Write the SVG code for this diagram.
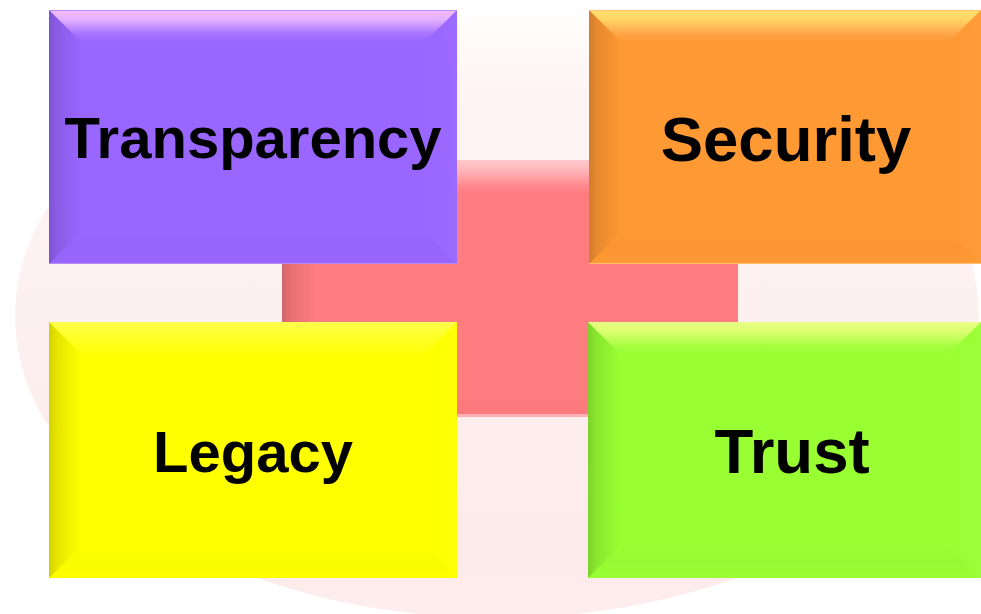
<svg xmlns="http://www.w3.org/2000/svg" width="981" height="614" viewBox="0 0 981 614">
<style>
.lbl{font-family:"Liberation Sans",Arial,sans-serif;font-weight:700;font-size:58px;fill:#000;text-anchor:middle}
.big{font-size:63.5px}
.l{fill:url(#gl)}
.r{fill:url(#gr)}
.b{fill:url(#gb)}
.edge{fill:none;stroke-width:1}
</style>
<defs>
<linearGradient id="ge" x1="0" y1="0" x2="0" y2="1">
<stop offset="0" stop-color="#fffdfd"/><stop offset=".13" stop-color="#fef4f4"/><stop offset=".5" stop-color="#fdf0f0"/><stop offset=".9" stop-color="#fdeaea"/><stop offset="1" stop-color="#fdeeee"/>
</linearGradient>
<linearGradient id="gl" x1="0" y1="0" x2="1" y2="0">
<stop offset="0" stop-color="#000" stop-opacity=".18"/><stop offset=".25" stop-color="#000" stop-opacity=".1"/><stop offset=".8" stop-color="#000" stop-opacity=".03"/><stop offset="1" stop-color="#000" stop-opacity="0"/>
</linearGradient>
<linearGradient id="gr" x1="1" y1="0" x2="0" y2="0">
<stop offset="0" stop-color="#fff" stop-opacity=".03"/><stop offset="1" stop-color="#fff" stop-opacity="0"/>
</linearGradient>
<linearGradient id="gb" x1="0" y1="1" x2="0" y2="0">
<stop offset="0" stop-color="#000" stop-opacity="0"/><stop offset=".5" stop-color="#000" stop-opacity=".02"/><stop offset="1" stop-color="#000" stop-opacity="0"/>
</linearGradient>
<linearGradient id="tp" x1="0" y1="0" x2="0" y2="1"><stop offset="0" stop-color="#f4bcff"/><stop offset=".3" stop-color="#e4b0ff"/><stop offset=".75" stop-color="#a673ff"/><stop offset="1" stop-color="#9966ff"/></linearGradient>
<linearGradient id="to" x1="0" y1="0" x2="0" y2="1"><stop offset="0" stop-color="#ffe070"/><stop offset=".3" stop-color="#ffd463"/><stop offset=".75" stop-color="#fea548"/><stop offset="1" stop-color="#ff9933"/></linearGradient>
<linearGradient id="ty" x1="0" y1="0" x2="0" y2="1"><stop offset="0" stop-color="#ffff50"/><stop offset=".35" stop-color="#ffff30"/><stop offset="1" stop-color="#ffff08"/></linearGradient>
<linearGradient id="tg" x1="0" y1="0" x2="0" y2="1"><stop offset="0" stop-color="#e8ff85"/><stop offset=".3" stop-color="#dcff70"/><stop offset=".75" stop-color="#a6ff40"/><stop offset="1" stop-color="#99ff33"/></linearGradient>
<linearGradient id="tc" x1="0" y1="0" x2="0" y2="1"><stop offset="0" stop-color="#ffc8cc"/><stop offset=".3" stop-color="#ffb4b8"/><stop offset=".75" stop-color="#ff858a"/><stop offset="1" stop-color="#ff7c80"/></linearGradient>
</defs>

<rect width="981" height="614" fill="#fff"/>
<ellipse id="backdrop" cx="497" cy="316" rx="482" ry="302" fill="url(#ge)"/>

<g id="cross">
<path d="M457 160H589V264H738V322H589V417H457V322H282V264H457Z" fill="#ff7c80"/>
<rect x="457" y="160" width="132" height="36" fill="url(#tc)"/>
<rect x="282" y="264" width="34" height="58" class="l"/>
<rect x="457" y="400" width="132" height="14" fill="#fa777b" opacity=".5"/>
<rect x="457" y="414" width="132" height="3" fill="#ffb0b4"/>
</g>

<g id="transparency">
<rect x="49" y="10" width="408" height="254" fill="#9966ff"/>
<polygon points="49,10 457,10 425,42 81,42" fill="url(#tp)"/>
<polygon points="49,10 81,42 81,232 49,264" class="l"/>
<polygon points="457,10 457,264 425,232 425,42" class="r"/>
<polygon points="49,264 81,232 425,232 457,264" class="b"/>
<path d="M49 10.5H457M49 263.5H457" class="edge" stroke="#b48cff"/>
<text class="lbl" x="253" y="158">Transparency</text>
</g>

<g id="security">
<rect x="589" y="10" width="392" height="254" fill="#ff9933"/>
<polygon points="589,10 981,10 949,42 621,42" fill="url(#to)"/>
<polygon points="589,10 621,42 621,232 589,264" class="l"/>
<polygon points="981,10 981,264 949,232 949,42" class="r"/>
<polygon points="589,264 621,232 949,232 981,264" class="b"/>
<path d="M589 10.5H981M589 263.5H981" class="edge" stroke="#ffc070"/>
<text class="lbl big" x="786" y="161">Security</text>
</g>

<g id="legacy">
<rect x="49" y="322" width="408" height="256" fill="#ffff00"/>
<polygon points="49,322 457,322 425,354 81,354" fill="url(#ty)"/>
<polygon points="49,322 81,354 81,546 49,578" class="l"/>
<polygon points="457,322 457,578 425,546 425,354" class="r"/>
<polygon points="49,578 81,546 425,546 457,578" class="b"/>
<text class="lbl" x="253" y="472">Legacy</text>
</g>

<g id="trust">
<rect x="588" y="322" width="393" height="256" fill="#99ff33"/>
<polygon points="588,322 981,322 949,354 620,354" fill="url(#tg)"/>
<polygon points="588,322 620,354 620,546 588,578" class="l"/>
<polygon points="981,322 981,578 949,546 949,354" class="r"/>
<polygon points="588,578 620,546 949,546 981,578" class="b"/>
<text class="lbl big" x="792" y="473">Trust</text>
</g>
</svg>
